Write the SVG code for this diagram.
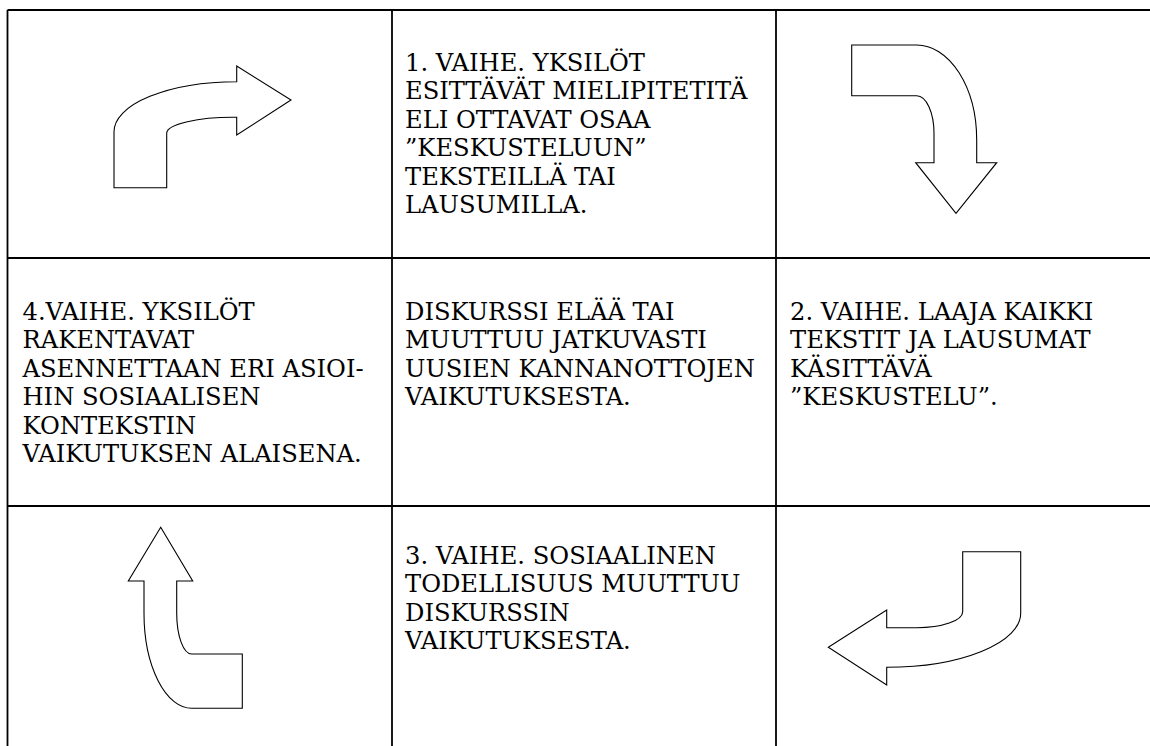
<svg xmlns="http://www.w3.org/2000/svg" width="1150" height="746" viewBox="0 0 1150 746">
<style>
.grid{stroke:#000;stroke-width:1.8;fill:none}
.arr{fill:#fff;stroke:#000;stroke-width:1.1;stroke-linejoin:miter}
.t{font-family:'DejaVu Serif',serif;font-size:24.2px;fill:#000}
</style>
<rect width="1150" height="746" fill="#fff"/>
<g id="grid" class="grid">
<line x1="7.5" y1="10" x2="1150" y2="10"/>
<line x1="7.5" y1="258" x2="1150" y2="258"/>
<line x1="7.5" y1="506" x2="1150" y2="506"/>
<line x1="7.5" y1="10" x2="7.5" y2="746"/>
<line x1="392" y1="10" x2="392" y2="746"/>
<line x1="776" y1="10" x2="776" y2="746"/>
</g>
<g id="stage1">
<text class="t" x="405" y="71"><tspan x="405">1. VAIHE. YKSILÖT</tspan><tspan x="405" dy="28.4">ESITTÄVÄT MIELIPITETITÄ</tspan><tspan x="405" dy="28.4">ELI OTTAVAT OSAA</tspan><tspan x="405" dy="28.4">”KESKUSTELUUN”</tspan><tspan x="405" dy="28.4">TEKSTEILLÄ TAI</tspan><tspan x="405" dy="28.4">LAUSUMILLA.</tspan></text>
</g>
<g id="stage4">
<text class="t" x="22.5" y="320"><tspan x="22.5">4.VAIHE. YKSILÖT</tspan><tspan x="22.5" dy="28.4">RAKENTAVAT</tspan><tspan x="22.5" dy="28.4">ASENNETTAAN ERI ASIOI-</tspan><tspan x="22.5" dy="28.4">HIN SOSIAALISEN</tspan><tspan x="22.5" dy="28.4">KONTEKSTIN</tspan><tspan x="22.5" dy="28.4">VAIKUTUKSEN ALAISENA.</tspan></text>
</g>
<g id="center">
<text class="t" x="405" y="320"><tspan x="405">DISKURSSI ELÄÄ TAI</tspan><tspan x="405" dy="28.4">MUUTTUU JATKUVASTI</tspan><tspan x="405" dy="28.4">UUSIEN KANNANOTTOJEN</tspan><tspan x="405" dy="28.4">VAIKUTUKSESTA.</tspan></text>
</g>
<g id="stage2">
<text class="t" x="790" y="320"><tspan x="790">2. VAIHE. LAAJA KAIKKI</tspan><tspan x="790" dy="28.4">TEKSTIT JA LAUSUMAT</tspan><tspan x="790" dy="28.4">KÄSITTÄVÄ</tspan><tspan x="790" dy="28.4">”KESKUSTELU”.</tspan></text>
</g>
<g id="stage3">
<text class="t" x="405" y="564"><tspan x="405">3. VAIHE. SOSIAALINEN</tspan><tspan x="405" dy="28.4">TODELLISUUS MUUTTUU</tspan><tspan x="405" dy="28.4">DISKURSSIN</tspan><tspan x="405" dy="28.4">VAIKUTUKSESTA.</tspan></text>
</g>
<g id="connectors">
<path class="arr" d="M114,187.7 V131.7 A122.7,50 0 0 1 236.7,81.7 V66 L291,100 L236.7,135 V117.3 A66.7,16 0 0 0 166.7,133.3 V187.7 Z"/>
<path class="arr" d="M851.7,45 H916.7 A60,95 0 0 1 976.7,140 V162.7 H996.7 L956,213.3 L915.7,162.7 H934 V133.3 A17.3,37.6 0 0 0 916.7,95.7 H851.7 Z"/>
<path class="arr" d="M962.7,551.7 H1020.7 V613.3 A134,54 0 0 1 886.7,667.3 V685 L828.3,647.3 L886.7,610 V627.7 H916.7 A46,16 0 0 0 962.7,611.7 Z"/>
<path class="arr" d="M160.7,527.3 L192.7,581 H176.7 V613.3 A15,40.7 0 0 0 191.7,654 H242.3 V708.3 H191.7 A47.7,95 0 0 1 144,613.3 V581 H128.3 Z"/>
</g>
</svg>
